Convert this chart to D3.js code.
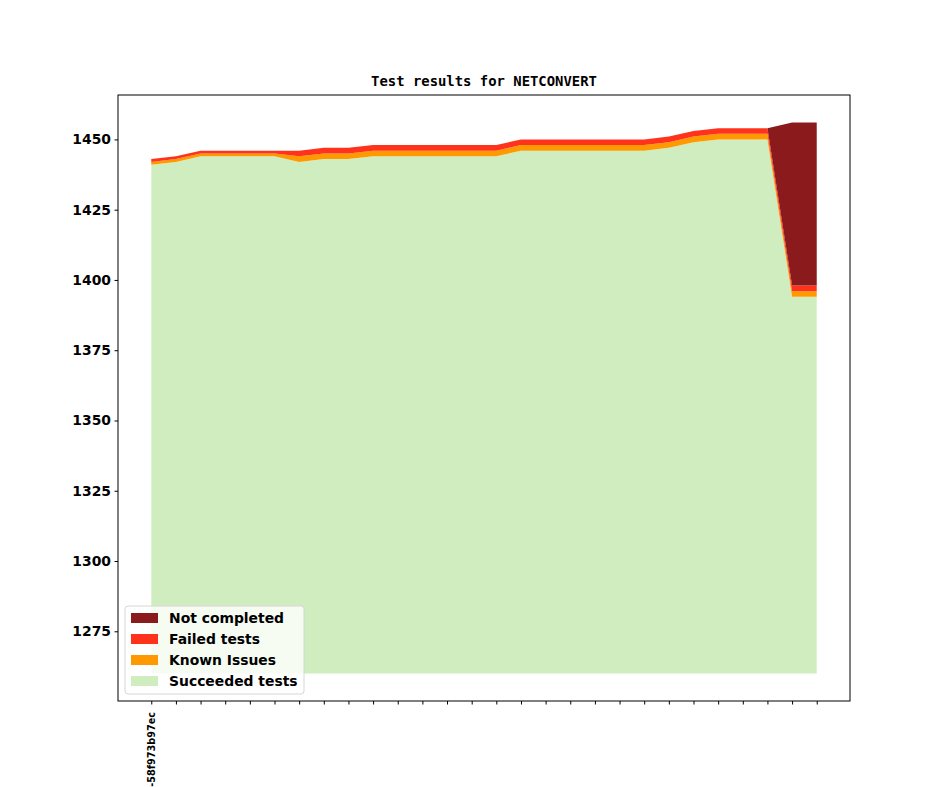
<!DOCTYPE html>
<html>
<head>
<meta charset="utf-8">
<script src="https://cdn.jsdelivr.net/npm/d3@7"></script>
<style>
  body { margin: 0; background: #fff; }
  text { font-family: "DejaVu Sans", sans-serif; }
</style>
</head>
<body>
<div id="chart"></div>
<script>
// values, one entry per commit
var commits = ["-58f973b97ec", "", "", "", "", "", "", "", "", "", "", "", "", "",
               "", "", "", "", "", "", "", "", "", "", "", "", "", ""];
var succeeded = [1441, 1442, 1444, 1444, 1444, 1444, 1442, 1443, 1443, 1444, 1444, 1444, 1444, 1444,
                 1444, 1446, 1446, 1446, 1446, 1446, 1446, 1447, 1449, 1450, 1450, 1450, 1394, 1394];
var knownIssues = [1, 1, 1, 1, 1, 1, 2, 2, 2, 2, 2, 2, 2, 2,
                   2, 2, 2, 2, 2, 2, 2, 2, 2, 2, 2, 2, 2, 2];
var failedTests = [1, 1, 1, 1, 1, 1, 2, 2, 2, 2, 2, 2, 2, 2,
                   2, 2, 2, 2, 2, 2, 2, 2, 2, 2, 2, 2, 2, 2];
var notCompleted = [0, 0, 0, 0, 0, 0, 0, 0, 0, 0, 0, 0, 0, 0,
                    0, 0, 0, 0, 0, 0, 0, 0, 0, 0, 0, 0, 58, 58];
var baseValue = 1260;   // the green area starts here, not at 0
var yTicks = [1275, 1300, 1325, 1350, 1375, 1400, 1425, 1450];

var seriesKeys = ["succeeded", "known", "failed", "notcompleted"];
var seriesNames = {succeeded: "Succeeded tests", known: "Known Issues",
                   failed: "Failed tests", notcompleted: "Not completed"};
var colors = {succeeded: "#cfedbf", known: "#ff9900", failed: "#ff331c", notcompleted: "#8b1a1d"};

var W = 944, H = 787;
var margin = {top: 95, right: 94, bottom: 86, left: 118},
    width = W - margin.left - margin.right,
    height = H - margin.top - margin.bottom;

var table = commits.map(function(c, i) {
  return {i: i, succeeded: succeeded[i], known: knownIssues[i],
          failed: failedTests[i], notcompleted: notCompleted[i]};
});
var stacked = d3.stack().keys(seriesKeys)(table);

var svg = d3.select("#chart").append("svg")
    .attr("width", W).attr("height", H);
var g = svg.append("g")
    .attr("transform", "translate(" + margin.left + "," + margin.top + ")");

// matplotlib-like 5% margins
var n = commits.length;
var xPad = (n - 1) * 0.05;
var x = d3.scaleLinear().domain([-xPad, n - 1 + xPad]).range([0, width]);
var yMax = d3.max(stacked[stacked.length - 1], function(d) { return d[1]; });
var yPad = (yMax - baseValue) * 0.05;
var y = d3.scaleLinear().domain([baseValue - yPad, yMax + yPad]).range([height, 0]);

// first layer is filled down to baseValue, the others sit on top of it
var area = d3.area()
    .x(function(d) { return x(d.data.i); })
    .y0(function(d) { return y(d[0] === 0 ? baseValue : d[0]); })
    .y1(function(d) { return y(d[1]); });

g.selectAll("path.layer")
    .data(stacked)
    .enter().append("path")
      .attr("class", "layer")
      .attr("d", area)
      .style("fill", function(d) { return colors[d.key]; });

// frame
g.append("rect")
    .attr("width", width).attr("height", height)
    .style("fill", "none").style("stroke", "#000").style("stroke-width", 1);

// y axis
var yAxis = g.append("g")
    .call(d3.axisLeft(y).tickValues(yTicks).tickSize(3.5).tickPadding(3.5).tickFormat(d3.format("d")));
yAxis.select(".domain").remove();
yAxis.selectAll("text")
    .style("font-family", "DejaVu Sans").style("font-weight", "bold").style("font-size", "13.9px")
    .attr("fill", "#000");

// x axis, only the first commit has a label
var xAxis = g.append("g")
    .attr("transform", "translate(0," + height + ")")
    .call(d3.axisBottom(x).tickValues(d3.range(n)).tickSize(3.5)
      .tickFormat(function(d) { return commits[d]; }));
xAxis.select(".domain").remove();
xAxis.selectAll("text")
    .style("font-family", "DejaVu Sans").style("font-weight", "bold").style("font-size", "9.7px")
    .attr("text-anchor", "end")
    .attr("transform", "rotate(-90)")
    .attr("x", -11).attr("y", 0).attr("dy", "0.35em");

// title
svg.append("text")
    .attr("x", margin.left + width / 2).attr("y", margin.top - 9)
    .attr("text-anchor", "middle")
    .style("font-family", "DejaVu Sans Mono").style("font-weight", "bold").style("font-size", "13.9px")
    .text("Test results for NETCONVERT");

// legend, lower left
var legendKeys = seriesKeys.slice().reverse();
var legend = g.append("g").attr("transform", "translate(7," + (height - 95) + ")");
legend.append("rect")
    .attr("width", 179).attr("height", 88).attr("rx", 3)
    .style("fill", "rgba(255,255,255,0.8)").style("stroke", "#d6d6d6").style("stroke-width", 1);
var items = legend.selectAll("g.item")
    .data(legendKeys).enter().append("g")
      .attr("class", "item")
      .attr("transform", function(d, i) { return "translate(0," + (12 + i * 21) + ")"; });
items.append("rect")
    .attr("x", 6).attr("y", -5).attr("width", 27).attr("height", 10)
    .style("fill", function(d) { return colors[d]; });
items.append("text")
    .attr("x", 44).attr("y", 0).attr("dy", "0.35em")
    .style("font-weight", "bold").style("font-size", "13.9px")
    .text(function(d) { return seriesNames[d]; });
</script>
</body>
</html>
